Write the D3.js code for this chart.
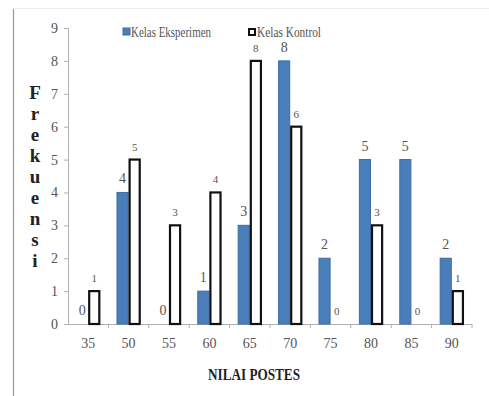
<!DOCTYPE html>
<html>
<head>
<meta charset="utf-8">
<script src="https://cdn.jsdelivr.net/npm/d3@7"></script>
<style>
  html, body { margin: 0; padding: 0; background: #fff; }
  svg { display: block; }
  text { font-family: "Liberation Serif", "Tinos", "Times New Roman", serif; }
</style>
</head>
<body>
<svg id="chart" width="489" height="396"></svg>
<script>
const categories = ["35", "50", "55", "60", "65", "70", "75", "80", "85", "90"];
const eksperimen = [0, 4, 0, 1, 3, 8, 2, 5, 5, 2];
const kontrol = [1, 5, 3, 4, 8, 6, 0, 3, 0, 1];
const seriesNames = ["Kelas Eksperimen", "Kelas Kontrol"];
const yTicks = [0, 1, 2, 3, 4, 5, 6, 7, 8, 9];
const yTitle = "Frekuensi";
const xTitle = "NILAI POSTES";

const svg = d3.select("#chart");

// frame lines
svg.append("line").attr("x1", 13.5).attr("x2", 13.5).attr("y1", 8).attr("y2", 396)
  .attr("stroke", "#9a9a9a").attr("stroke-width", 1.2);
svg.append("line").attr("x1", 13).attr("x2", 489).attr("y1", 8.5).attr("y2", 8.5)
  .attr("stroke", "#eeeeee").attr("stroke-width", 1);

const x0 = d3.scaleBand().domain(categories).range([68, 472]).paddingInner(0.4).paddingOuter(0.2);
const keys = ["e", "k"];
const x1 = d3.scaleBand().domain(keys).range([0, x0.bandwidth()]);
const y = d3.scaleLinear().domain([0, 9]).range([324, 28]);

const data = categories.map((c, i) => ({ cat: c, e: eksperimen[i], k: kontrol[i] }));

// y axis
const yAxis = svg.append("g").attr("transform", "translate(68,0)")
  .call(d3.axisLeft(y).tickValues(yTicks).tickSize(4).tickPadding(6).tickFormat(d3.format("d")));
yAxis.select(".domain").attr("stroke", "#b0b0b0");
yAxis.selectAll(".tick line").attr("stroke", "#b0b0b0");
yAxis.selectAll(".tick text").attr("font-size", 14).attr("fill", "#555").attr("font-family", null);

// x axis
const xAxis = svg.append("g").attr("transform", "translate(0,324)")
  .call(d3.axisBottom(x0).tickSize(0).tickPadding(14));
xAxis.select(".domain").attr("stroke", "#b0b0b0");
xAxis.selectAll(".tick text").attr("font-size", 14).attr("fill", "#555").attr("font-family", null);
// tick marks between categories
const step = x0.step();
const r0 = x0.range()[0];
const bounds = d3.range(1, categories.length + 1).map(i => r0 + i * step);
svg.append("g").selectAll("line").data(bounds).join("line")
  .attr("x1", d => d).attr("x2", d => d)
  .attr("y1", 324).attr("y2", 328).attr("stroke", "#b0b0b0");

// bars
const groups = svg.append("g").selectAll("g").data(data).join("g")
  .attr("transform", d => `translate(${x0(d.cat)},0)`);

groups.append("rect")
  .attr("x", x1("e") + 0.5).attr("width", x1.bandwidth() - 1)
  .attr("y", d => y(d.e)).attr("height", d => y(0) - y(d.e))
  .attr("fill", "#4a7ebb").attr("stroke", "#3d6da6").attr("stroke-width", 1);

groups.append("rect")
  .attr("x", x1("k") + 1).attr("width", x1.bandwidth() - 2)
  .attr("y", d => y(d.k)).attr("height", d => y(0) - y(d.k))
  .attr("fill", "#fff").attr("stroke", "#111").attr("stroke-width", 2.2);

// value labels
groups.append("text")
  .attr("x", x1("e") + x1.bandwidth() / 2)
  .attr("y", d => y(d.e) - 9)
  .attr("text-anchor", "middle").attr("font-size", 14).attr("fill", "#555")
  .text(d => d.e);

groups.append("text")
  .attr("x", x1("k") + x1.bandwidth() / 2)
  .attr("y", d => y(d.k) - 9)
  .attr("text-anchor", "middle").attr("font-size", 11).attr("fill", "#555")
  .text(d => d.k);

// legend
const legend = svg.append("g");
legend.append("rect").attr("x", 123).attr("y", 28).attr("width", 7).attr("height", 7)
  .attr("fill", "#4a7ebb").attr("stroke", "#3d6da6");
legend.append("text").attr("x", 131).attr("y", 37).attr("font-size", 14).attr("fill", "#555")
  .attr("textLength", 80).attr("lengthAdjust", "spacingAndGlyphs").text(seriesNames[0]);
legend.append("rect").attr("x", 249).attr("y", 29).attr("width", 6).attr("height", 6)
  .attr("fill", "#fff").attr("stroke", "#111").attr("stroke-width", 2);
legend.append("text").attr("x", 257).attr("y", 37).attr("font-size", 14).attr("fill", "#555")
  .attr("textLength", 64).attr("lengthAdjust", "spacingAndGlyphs").text(seriesNames[1]);

// y title: stacked letters
const yt = svg.append("text").attr("font-size", 19).attr("font-weight", "bold").attr("fill", "#222")
  .attr("text-anchor", "middle");
yTitle.split("").forEach((ch, i) => {
  yt.append("tspan").attr("x", 35).attr("y", 99 + i * 21).text(ch);
});

// x title
svg.append("text").attr("x", 254).attr("y", 380).attr("text-anchor", "middle")
  .attr("font-size", 16).attr("font-weight", "bold").attr("fill", "#222")
  .attr("textLength", 92).attr("lengthAdjust", "spacingAndGlyphs")
  .text(xTitle);
</script>
</body>
</html>
